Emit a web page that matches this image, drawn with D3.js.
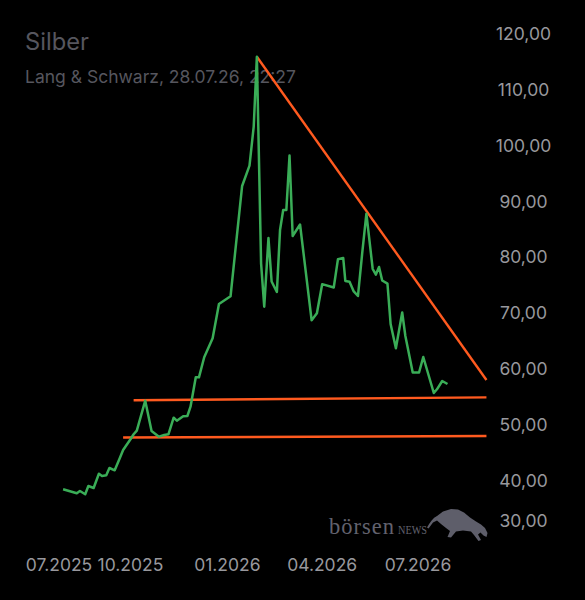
<!DOCTYPE html>
<html>
<head>
<meta charset="utf-8">
<script src="https://cdn.jsdelivr.net/npm/d3@7"></script>
<style>
html,body{margin:0;padding:0;background:#000;}
svg{display:block;}
</style>
</head>
<body>
<div id="chart"></div>
<script>
// ---- data ----
const titleText = "Silber";
const subtitleText = "Lang & Schwarz, 28.07.26, 22:27";
const dates = ["2025-07-29","2025-08-11","2025-08-14","2025-08-19","2025-08-22","2025-08-27","2025-09-01","2025-09-04","2025-09-08","2025-09-11","2025-09-16","2025-09-21","2025-09-24","2025-10-01","2025-10-04","2025-10-07","2025-10-15","2025-10-21","2025-10-28","2025-11-02","2025-11-06","2025-11-11","2025-11-14","2025-11-20","2025-11-24","2025-11-27","2025-12-02","2025-12-05","2025-12-10","2025-12-18","2025-12-24","2026-01-04","2026-01-15","2026-01-22","2026-01-26","2026-01-29","2026-02-02","2026-02-05","2026-02-09","2026-02-12","2026-02-17","2026-02-20","2026-02-23","2026-02-26","2026-03-01","2026-03-04","2026-03-11","2026-03-22","2026-03-27","2026-04-01","2026-04-12","2026-04-16","2026-04-21","2026-04-23","2026-04-27","2026-05-01","2026-05-05","2026-05-09","2026-05-13","2026-05-19","2026-05-22","2026-05-25","2026-05-28","2026-06-02","2026-06-05","2026-06-10","2026-06-16","2026-06-19","2026-06-26","2026-07-02","2026-07-06","2026-07-16","2026-07-19","2026-07-24","2026-07-29"];
const prices = [38.38,37.66,38.07,37.48,38.97,38.61,41.17,40.76,40.88,42.19,41.78,44.04,45.42,47.34,48.24,48.88,54.26,48.83,47.81,48.11,48.24,51.21,50.67,51.46,51.51,53.18,58.45,58.45,62.04,65.45,71.60,72.98,92.75,96.39,103.38,115.93,78.89,71.11,83.43,75.63,73.75,84.86,88.45,88.45,98.22,83.79,85.85,68.67,69.93,75.15,74.55,79.63,79.84,75.72,75.60,73.84,73.03,80.65,87.78,77.87,76.87,78.23,75.81,75.24,68.01,63.65,70.07,65.86,59.32,59.32,62.09,55.64,56.30,57.79,57.25];
// trend lines: [start date, start value, end date, end value]
const resistanceLine = ["2026-01-29",115.93,"2026-09-04",57.97];
const supportUpper = ["2025-10-04",54.35,"2026-09-04",54.85];
const supportLower = ["2025-09-24",47.66,"2026-09-04",47.93];
const yTicks = [30,40,50,60,70,80,90,100,110,120];
const xTicks = ["2025-07-01","2025-10-01","2026-01-01","2026-04-01","2026-07-01"];

// ---- layout ----
const W = 585, H = 600;
const parse = d3.timeParse("%Y-%m-%d");
const fmtX = d3.timeFormat("%m.%Y");
const fmtY = v => d3.format(".2f")(v).replace(".", ",");

const x = d3.scaleTime()
  .domain([parse("2025-07-01"), parse("2026-07-01")])
  .range([33.6, 418]);
const y = d3.scaleLinear().domain([30, 120]).range([536, 34]);

const svg = d3.select("#chart").append("svg")
  .attr("width", W).attr("height", H)
  .style("background", "#000");

const FONT = "Inter, 'Noto Sans', sans-serif";

// title
svg.append("text").attr("x", 25).attr("y", 49.5)
  .attr("font-family", FONT).attr("font-size", 23.7).attr("fill", "#56565e")
  .text(titleText);
svg.append("text").attr("x", 25).attr("y", 83)
  .attr("font-family", FONT).attr("font-size", 17.5).attr("fill", "#56565e")
  .text(subtitleText);

// y labels
svg.append("g").selectAll("text").data(yTicks).join("text")
  .attr("x", 523.5)
  .attr("y", d => Math.min(y(d), 521))
  .attr("dy", "0.36em")
  .attr("text-anchor", "middle")
  .attr("font-family", FONT).attr("font-size", 17.5).attr("fill", "#98989d")
  .text(fmtY);

// x labels
svg.append("g").selectAll("text").data(xTicks.map(parse)).join("text")
  .attr("x", d => Math.max(x(d), 59))
  .attr("y", 565)
  .attr("dy", "0.36em")
  .attr("text-anchor", "middle")
  .attr("font-family", FONT).attr("font-size", 17.5).attr("fill", "#98989d")
  .text(fmtX);

// logo
const logo = svg.append("g");
const SERIF = "'Liberation Serif', 'DejaVu Serif', serif";
logo.append("text").attr("x", 329).attr("y", 534)
  .attr("font-family", SERIF).attr("font-size", 22.5).attr("letter-spacing", 1.0)
  .attr("fill", "#62626e").text("börsen");
logo.append("text").attr("x", 398).attr("y", 534)
  .attr("font-family", SERIF).attr("font-size", 13.5)
  .attr("textLength", 29).attr("lengthAdjust", "spacingAndGlyphs")
  .attr("fill", "#62626e").text("NEWS");
logo.append("path")
  .attr("d", "M427,527.5 C430,522 433,518 437,516 L443,511.5 L451,509 L458,509.5 L464,512.5 L470,517.5 L476,521.5 L481,524.5 L485,528 L487.5,533 L486.5,537 L483.5,535.5 L480.5,532.5 L478,534.5 L481,540 L478.5,541 L474,535 L471,531.5 L463,530.5 L456,531.5 L451,537.5 L447.5,537 L450,531 L446,528 L441,524 L437,520.5 L433,522.5 L428.5,528.5 Z")
  .attr("fill", "#5e5e6a");

// trend lines
const orange = "#ff5a1f";
[resistanceLine, supportUpper, supportLower].forEach(t => {
  svg.append("line")
    .attr("x1", x(parse(t[0]))).attr("y1", y(t[1]))
    .attr("x2", x(parse(t[2]))).attr("y2", y(t[3]))
    .attr("stroke", orange).attr("stroke-width", 2.4);
});

// price line
const series = dates.map((d, i) => ({date: parse(d), value: prices[i]}));
svg.append("path").datum(series)
  .attr("fill", "none")
  .attr("stroke", "#3aad57")
  .attr("stroke-width", 2.5)
  .attr("stroke-linejoin", "round")
  .attr("d", d3.line().x(d => x(d.date)).y(d => y(d.value)));
</script>
</body>
</html>
